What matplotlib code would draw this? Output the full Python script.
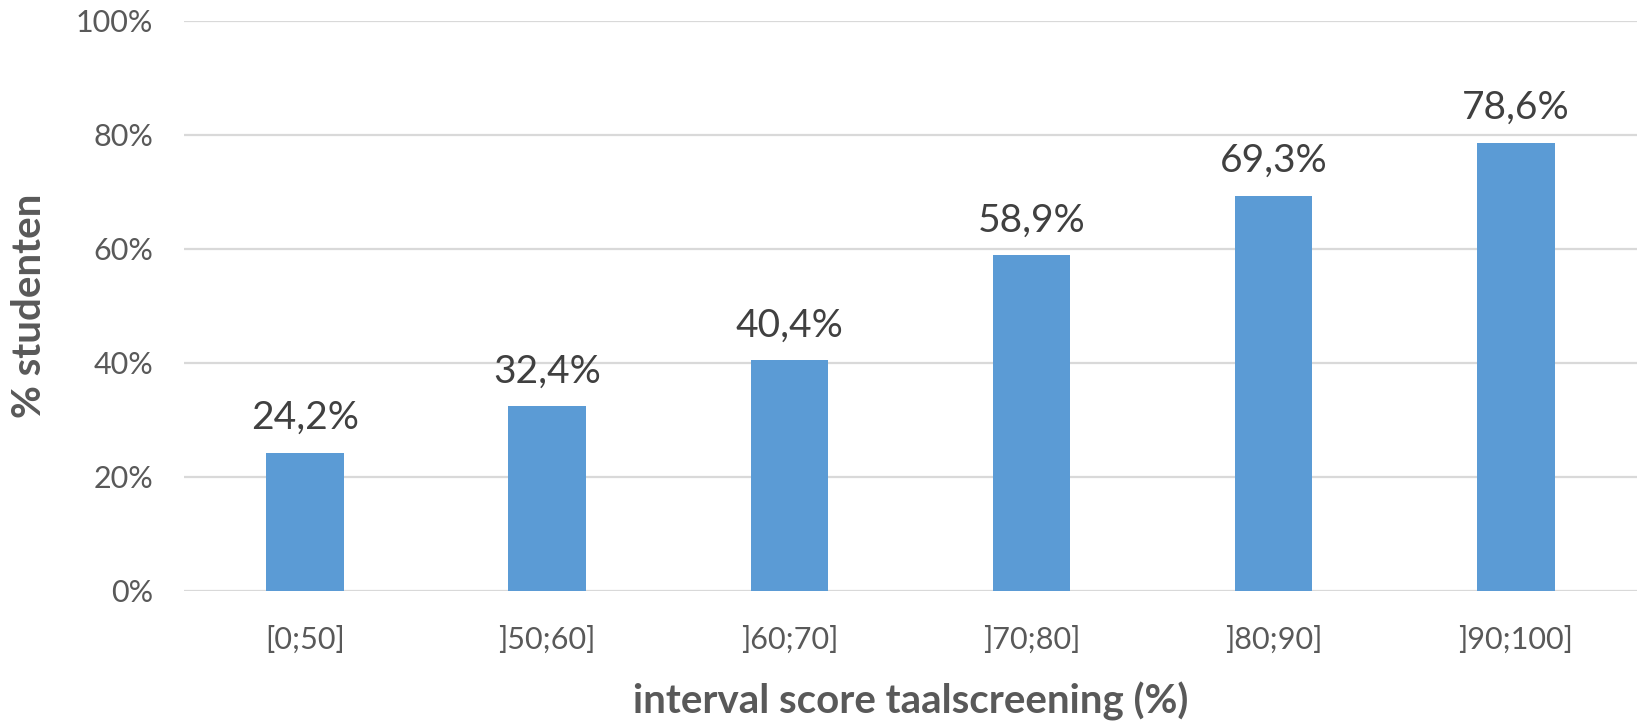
import matplotlib.pyplot as plt
from matplotlib.ticker import FuncFormatter

categories = ['[0;50]', ']50;60]', ']60;70]', ']70;80]', ']80;90]', ']90;100]']
values = [24.2, 32.4, 40.4, 58.9, 69.3, 78.6]

plt.rcParams['font.family'] = ['Lato', 'DejaVu Sans']

fig = plt.figure(figsize=(16.5, 7.21), dpi=100)
ax = fig.add_axes([0.1115, 0.1807, 0.8806, 0.7906])

x = range(len(categories))
bars = ax.bar(x, values, width=0.32, color='#5B9BD5', zorder=3)

for xi, v in zip(x, values):
    ax.annotate(('%.1f%%' % v).replace('.', ','), (xi, v), xytext=(0, 12),
                textcoords='offset points', ha='center', va='bottom',
                fontsize=28, color='#404040')

ax.set_ylim(0, 100)
ax.set_xlim(-0.5, len(categories) - 0.5)
ax.set_yticks(range(0, 101, 20))
ax.yaxis.set_major_formatter(FuncFormatter(lambda v, p: '%d%%' % v))
ax.set_xticks(list(x))
ax.set_xticklabels(categories)
ax.grid(axis='y', color='#D9D9D9', linewidth=1.6, zorder=0)
for s in ax.spines.values():
    s.set_visible(False)
ax.tick_params(axis='both', length=0, labelsize=22, colors='#595959')
ax.tick_params(axis='y', pad=22)
ax.tick_params(axis='x', pad=25)

ax.set_xlabel('interval score taalscreening (%)', fontsize=29, fontweight='bold',
              color='#595959', labelpad=20)
ax.set_ylabel('% studenten', fontsize=29, fontweight='bold', color='#595959',
              labelpad=20)

fig.savefig('out.png', dpi=100)
